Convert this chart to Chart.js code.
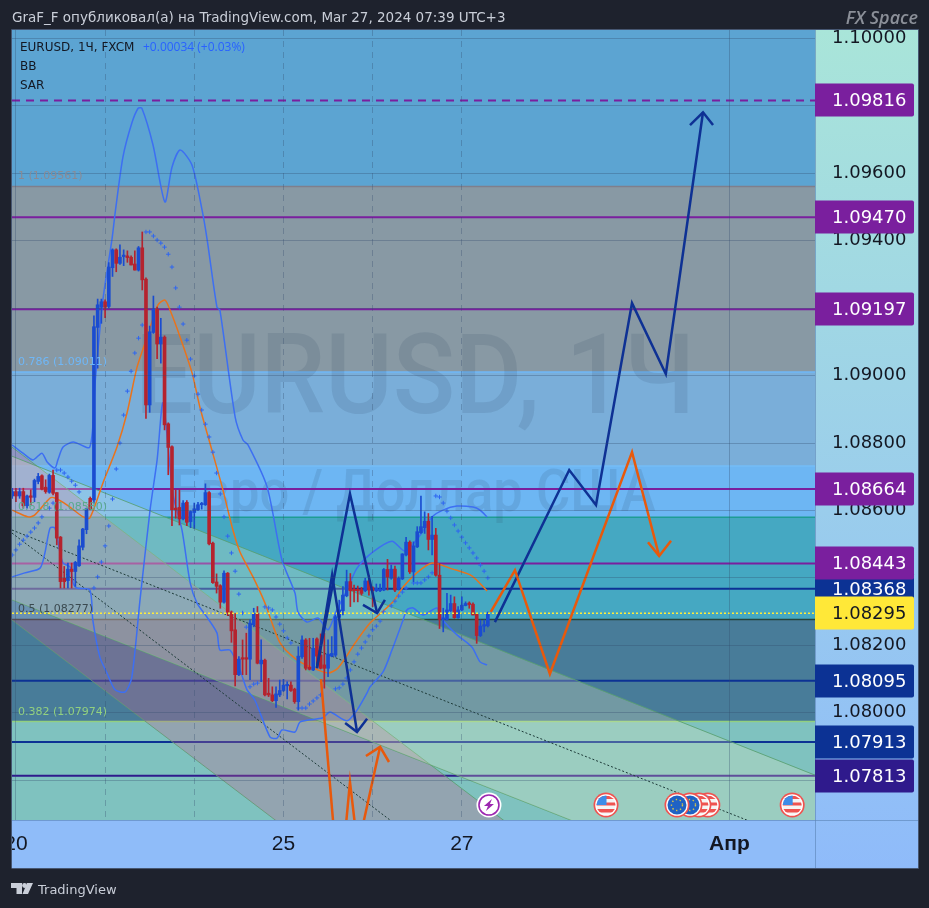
<!DOCTYPE html>
<html>
<head>
<meta charset="utf-8">
<title>EURUSD, 1Ч</title>
<script src="https://cdn.jsdelivr.net/npm/chart.js@4"></script>
<style>
    html, body { margin: 0; padding: 0; background: #1e222d; }
    #wrap { position: relative; width: 929px; height: 908px; }
</style>
</head>
<body>
<div id="wrap"><canvas id="chart" width="929" height="908"></canvas></div>
<script>
// candles, first one sits at bar -1
const candleOpen = [1.08643,1.08656,1.08643,1.08656,1.08614,1.08643,1.08639,1.08686,1.08703,1.08669,1.08654,1.08704,1.08653,1.08521,1.08399,1.08392,1.08426,1.08419,1.08436,1.08491,1.08543,1.08636,1.08631,1.09143,1.09203,1.09219,1.09205,1.09320,1.09373,1.09333,1.09353,1.09355,1.09351,1.09331,1.09313,1.09379,1.09286,1.08913,1.09128,1.09197,1.09094,1.09114,1.08857,1.08789,1.08607,1.08609,1.08575,1.08624,1.08567,1.08594,1.08602,1.08617,1.08617,1.08653,1.08503,1.08388,1.08377,1.08328,1.08414,1.08299,1.08246,1.08113,1.08162,1.08162,1.08159,1.08261,1.08294,1.08145,1.08156,1.08058,1.08053,1.08036,1.08053,1.08066,1.08080,1.08082,1.08070,1.08033,1.08166,1.08216,1.08135,1.08127,1.08219,1.08171,1.08142,1.08132,1.08168,1.08171,1.08283,1.08303,1.08347,1.08389,1.08364,1.08364,1.08364,1.08362,1.08391,1.08371,1.08362,1.08362,1.08364,1.08425,1.08399,1.08426,1.08367,1.08397,1.08468,1.08506,1.08418,1.08492,1.08534,1.08549,1.08568,1.08514,1.08527,1.08408,1.08277,1.08277,1.08303,1.08324,1.08282,1.08305,1.08318,1.08324,1.08322,1.08292,1.08229,1.08257,1.08258];
const candleHigh = [1.08666,1.08666,1.08666,1.08666,1.08646,1.08661,1.08693,1.08710,1.08706,1.08691,1.08708,1.08720,1.08653,1.08523,1.08434,1.08444,1.08444,1.08449,1.08513,1.08547,1.08607,1.08640,1.09177,1.09227,1.09227,1.09225,1.09335,1.09376,1.09376,1.09388,1.09373,1.09370,1.09355,1.09370,1.09383,1.09426,1.09290,1.09147,1.09236,1.09203,1.09170,1.09118,1.08860,1.08792,1.08661,1.08661,1.08629,1.08629,1.08599,1.08622,1.08624,1.08624,1.08679,1.08656,1.08506,1.08412,1.08380,1.08421,1.08416,1.08302,1.08294,1.08167,1.08216,1.08236,1.08276,1.08310,1.08315,1.08216,1.08159,1.08102,1.08077,1.08077,1.08097,1.08099,1.08092,1.08092,1.08073,1.08196,1.08228,1.08220,1.08221,1.08221,1.08222,1.08234,1.08236,1.08216,1.08226,1.08290,1.08334,1.08374,1.08423,1.08413,1.08379,1.08376,1.08372,1.08399,1.08408,1.08374,1.08382,1.08382,1.08428,1.08455,1.08438,1.08435,1.08403,1.08472,1.08520,1.08510,1.08507,1.08552,1.08643,1.08596,1.08591,1.08583,1.08547,1.08443,1.08310,1.08354,1.08349,1.08344,1.08315,1.08344,1.08329,1.08329,1.08326,1.08295,1.08275,1.08275,1.08299];
const candleLow = [1.08636,1.08626,1.08636,1.08607,1.08607,1.08617,1.08626,1.08679,1.08661,1.08651,1.08651,1.08646,1.08498,1.08370,1.08370,1.08370,1.08370,1.08375,1.08434,1.08483,1.08531,1.08602,1.08622,1.09022,1.09155,1.09172,1.09200,1.09294,1.09308,1.09330,1.09326,1.09336,1.09328,1.09313,1.09310,1.09254,1.08873,1.08891,1.09125,1.09050,1.09037,1.08839,1.08706,1.08555,1.08577,1.08557,1.08572,1.08555,1.08549,1.08547,1.08600,1.08604,1.08615,1.08498,1.08384,1.08355,1.08310,1.08325,1.08288,1.08209,1.08080,1.08110,1.08113,1.08113,1.08098,1.08255,1.08145,1.08092,1.08050,1.08048,1.08033,1.08016,1.08048,1.08063,1.08041,1.08063,1.08028,1.08008,1.08161,1.08127,1.08127,1.08125,1.08132,1.08130,1.08073,1.08107,1.08166,1.08166,1.08280,1.08290,1.08344,1.08315,1.08329,1.08329,1.08349,1.08359,1.08349,1.08315,1.08359,1.08359,1.08362,1.08364,1.08396,1.08359,1.08364,1.08395,1.08465,1.08413,1.08389,1.08490,1.08532,1.08532,1.08483,1.08468,1.08405,1.08250,1.08240,1.08275,1.08300,1.08280,1.08280,1.08303,1.08317,1.08310,1.08290,1.08206,1.08226,1.08240,1.08255];
const candleClose = [1.08656,1.08643,1.08656,1.08614,1.08643,1.08639,1.08689,1.08701,1.08663,1.08656,1.08704,1.08651,1.08518,1.08389,1.08389,1.08426,1.08419,1.08446,1.08495,1.08545,1.08605,1.08604,1.09145,1.09210,1.09219,1.09203,1.09322,1.09373,1.09333,1.09351,1.09355,1.09350,1.09328,1.09313,1.09379,1.09284,1.08913,1.09130,1.09197,1.09094,1.09114,1.08854,1.08787,1.08602,1.08602,1.08575,1.08622,1.08565,1.08597,1.08605,1.08617,1.08620,1.08653,1.08501,1.08386,1.08375,1.08328,1.08414,1.08298,1.08243,1.08113,1.08159,1.08159,1.08159,1.08266,1.08294,1.08147,1.08156,1.08053,1.08053,1.08036,1.08056,1.08066,1.08082,1.08082,1.08066,1.08033,1.08168,1.08216,1.08132,1.08129,1.08191,1.08168,1.08132,1.08132,1.08174,1.08176,1.08285,1.08305,1.08349,1.08389,1.08362,1.08362,1.08362,1.08354,1.08391,1.08364,1.08362,1.08369,1.08364,1.08425,1.08402,1.08426,1.08364,1.08399,1.08471,1.08506,1.08418,1.08495,1.08537,1.08552,1.08568,1.08514,1.08527,1.08408,1.08277,1.08280,1.08305,1.08324,1.08282,1.08305,1.08319,1.08324,1.08321,1.08290,1.08229,1.08257,1.08260,1.08292];

// bollinger bands, read at the bends
const bbUpperBars = [-1,1.9,4.6,7,8.4,10.5,11.3,12.7,15.4,19.9,21.3,23.4,25.9,26.7,28.8,31.2,32.9,33.9,36.9,40.1,42,44.2,47.4,50.1,51.4,54.1,54.9,59,61.1,62.5,67.6,71.6,75.1,75.9,78.3,81.3,84,86.1,89.1,91.8,96.1,101.2,104.7,108.8,112,114.9,118.7,123,124.9,126.8];
const bbUpperVals = [1.08794,1.0877,1.0875,1.0877,1.08744,1.08726,1.0875,1.08788,1.08803,1.08788,1.08978,1.09224,1.09408,1.09482,1.09648,1.09749,1.09793,1.09793,1.09684,1.09515,1.09618,1.09669,1.09624,1.09491,1.09408,1.09203,1.09194,1.08877,1.08809,1.08794,1.0867,1.08453,1.08355,1.08299,1.08269,1.08281,1.08246,1.08299,1.08364,1.08429,1.08477,1.08509,1.0848,1.08527,1.08581,1.08601,1.08613,1.0861,1.08601,1.08581];
const bbLowerBars = [-1,2.4,6.5,7.8,9.2,10.5,11.9,12.7,14.6,15.4,16.4,19.9,20.7,22.6,24.5,26.7,29.4,31.2,33.4,36.1,38,39.6,42.3,44.7,46.9,48.7,51.4,54.1,54.9,57.6,60.3,62.2,64.3,68.4,70.3,71.6,75.1,76.5,82.6,84.5,89.1,91.8,94.5,95.3,98.8,101.2,104.2,105.2,106.9,109.6,113.3,114.9,118.7,122.7,124.9,126.8];
const bbLowerVals = [1.08403,1.08415,1.08429,1.08474,1.08548,1.08548,1.08474,1.08444,1.08432,1.08385,1.0837,1.08364,1.08275,1.08165,1.08118,1.08068,1.08062,1.08106,1.08335,1.08601,1.0875,1.08919,1.08646,1.08542,1.08385,1.08326,1.08284,1.08237,1.08186,1.08186,1.08127,1.08068,1.08038,1.07928,1.07925,1.07949,1.07943,1.07973,1.07985,1.08002,1.07976,1.08008,1.08059,1.08077,1.08121,1.08186,1.08275,1.08305,1.08311,1.0829,1.08311,1.08275,1.08231,1.08195,1.08151,1.08142];
const bbBasisBars = [-1,3.3,5.1,9.2,10.5,13.8,18.1,19.9,23.4,27.2,29.9,32.6,35.3,38.2,40.1,41.5,44.2,47.4,49.5,52.2,55.5,58.4,60.3,63.8,67,71.1,75.6,79.9,84,86.7,91.3,95.3,101.5,104.2,107.9,112,117.6,122.7,126.8];
const bbBasisVals = [1.08601,1.08581,1.08587,1.08637,1.08637,1.08616,1.08581,1.08578,1.08681,1.08788,1.08889,1.09025,1.09114,1.09209,1.09224,1.09194,1.09114,1.09008,1.08907,1.088,1.0867,1.08542,1.08477,1.08403,1.08326,1.08207,1.08157,1.08133,1.08118,1.08133,1.08207,1.08266,1.08329,1.08373,1.08415,1.08444,1.08426,1.08406,1.08361];

// parabolic sar
const sarBars = [-1,0,1,2,3,4,5,6,7,9,10,11,12,13,14,15,16,17,21,22,23,24,25,26,27,28,29,30,31,32,33,34,35,36,37,38,39,40,41,42,43,44,45,46,47,48,49,50,51,52,53,54,55,56,57,58,59,60,61,62,63,64,65,67,68,69,70,71,72,73,74,76,77,78,79,80,81,82,86,87,88,89,90,91,92,93,94,95,96,97,98,99,101,102,103,104,105,107,108,109,110,111,112,113,114,115,116,117,118,119,120,121,122,123,124,125,126,127];
const sarVals = [1.08468,1.08483,1.085,1.08512,1.08524,1.08536,1.08548,1.08563,1.08581,1.08607,1.08622,1.0872,1.0872,1.08711,1.08699,1.08687,1.08675,1.08655,1.0837,1.08403,1.08447,1.08495,1.08554,1.08634,1.08723,1.088,1.08883,1.08954,1.09013,1.09067,1.09111,1.0915,1.09426,1.09426,1.09414,1.09402,1.09393,1.09381,1.0936,1.09322,1.0926,1.09203,1.09153,1.09105,1.09049,1.08999,1.08945,1.08898,1.08856,1.08818,1.08773,1.08711,1.08649,1.08581,1.08524,1.08474,1.0842,1.08352,1.08296,1.08254,1.08077,1.08085,1.08088,1.08314,1.08311,1.08305,1.08284,1.08263,1.08243,1.08222,1.08207,1.08014,1.08014,1.08014,1.08026,1.08035,1.08044,1.08053,1.08071,1.08074,1.08085,1.08103,1.08127,1.08151,1.08174,1.08192,1.0821,1.08228,1.08246,1.08257,1.08272,1.08299,1.08317,1.08331,1.08346,1.08358,1.0837,1.08385,1.08385,1.08385,1.08394,1.08403,1.08415,1.08643,1.0864,1.08622,1.08598,1.08578,1.08557,1.08539,1.08521,1.08504,1.08489,1.08474,1.08459,1.08438,1.0842,1.084];

// fibonacci retracement
const fibLevels = [1.09561, 1.09011, 1.08580, 1.08277, 1.07974];
const fibLabels = ['1 (1.09561)', '0.786 (1.09011)', '0.618 (1.08580)', '0.5 (1.08277)', '0.382 (1.07974)'];
const zoneTops = [1.10025, 1.09561, 1.09011, 1.08732, 1.08580, 1.08277, 1.07974];
const zoneBottoms = [1.09561, 1.09011, 1.08732, 1.08580, 1.08277, 1.07974, 1.07682];

// horizontal levels
const purpleLevels = [1.09816, 1.09470, 1.09197, 1.08664, 1.08443];
const blueLevels = [1.08368, 1.08095, 1.07913];
const indigoLevels = [1.07813];
const lastPrice = 1.08295;

// parallel channels, value at left and right edge of the pane
const steepUpper = [1.08788, 1.06980];
const steepMiddle = [1.08533, 1.06725];
const steepLower = [1.08275, 1.06466];
const flatUpper = [1.08761, 1.07815];
const flatMiddle = [1.08542, 1.07602];
const flatLower = [1.08335, 1.07396];

// hand drawn paths
const blueA = [[81,1.08133],[89.9,1.08649],[97.2,1.08296]];
const blueAHead = [[93.4,1.0832],[97.2,1.08296],[99.3,1.08335]];
const blueB = [[81,1.08133],[85.1,1.08409],[91.8,1.07943]];
const blueBHead = [[88.6,1.0797],[91.8,1.07943],[94.5,1.07982]];
const blueC = [[128.9,1.08269],[148.9,1.0872],[156.1,1.08616],[165.8,1.09215],[174.9,1.09005],[184.9,1.09781]];
const blueCHead = [[181.4,1.09743],[184.9,1.09781],[187.6,1.09743]];
const orangeA = [[127.8,1.08299],[134.3,1.08423],[143.7,1.08115],[165.8,1.08773],[173.1,1.08465]];
const orangeAHead = [[170.1,1.08506],[173.1,1.08465],[176.3,1.0851]];
const orangeB = [[82.1,1.081],[85.9,1.07608]];
const orangeC = [[88.7,1.07653],[89.9,1.07795],[91.4,1.07653]];
const orangeD = [[93.1,1.07653],[98,1.07899]];
const orangeDHead = [[94.2,1.07872],[98,1.07899],[100.4,1.07854]];

// axes
const priceTicks = [1.1,1.098,1.096,1.094,1.092,1.09,1.088,1.086,1.084,1.082,1.08,1.078];
const timeTickBars = [0,24,48,72,96,120,192];
const timeTickLabels = ['20','','','25','','27','Апр'];

// calendar events along the bottom
const usEvents = [158.8, 183.8, 186.2, 208.9];
const euEvents = [177.9, 181.4];
const boltEvents = [127.3];

const X_MIN = -1.05, X_MAX = 215.04, Y_MIN = 1.07682, Y_MAX = 1.10025;
const UI_FONT = '"DejaVu Sans"';

const toPoints = (bars, vals) => bars.map((b, i) => ({ x: b, y: vals[i] }));
const toXY = pairs => pairs.map(p => ({ x: p[0], y: p[1] }));
const edges = vals => [{ x: X_MIN, y: vals[0] }, { x: X_MAX, y: vals[1] }];
const level = v => edges([v, v]);

function line(label, data, color, width, extra) {
    return Object.assign({
        type: 'line', label, data, borderColor: color, borderWidth: width,
        pointRadius: 0, tension: 0, fill: false, clip: 0
    }, extra || {});
}

// built back to front, reversed at the end because the first dataset is drawn on top
const layers = [];

const zoneColors = ['#5ca4d2', '#8899a4', '#7aaed9', '#6db6f3', '#45a8c2', '#487c99', '#7fc2bf'];
const zoneEdges = ['rgba(0,0,0,0)', '#7f7f8c', '#6fb7f7', '#74bdf7', '#1f9c94', '#25433c', '#92d07f'];
zoneTops.forEach((top, i) => {
    layers.push(line('zone' + i, level(top), zoneEdges[i], i === 0 ? 0 : 1.5, {
        fill: { target: { value: zoneBottoms[i] } }, backgroundColor: zoneColors[i]
    }));
});

purpleLevels.forEach((v, i) => {
    layers.push(line('purple' + i, level(v), '#7a1f9e', 2, i === 0 ? { borderDash: [8, 6] } : {}));
});
blueLevels.forEach((v, i) => layers.push(line('blue' + i, level(v), '#0c3294', 2)));
indigoLevels.forEach((v, i) => layers.push(line('indigo' + i, level(v), '#2f1a8c', 2)));

const channelEdge = 'rgba(88,160,112,0.85)';
// lower edge goes first so that after the reverse the upper one fills to '+1'
layers.push(line('steepLower', edges(steepLower), channelEdge, 1));
layers.push(line('steepUpper', edges(steepUpper), channelEdge, 1, {
    fill: '+1', backgroundColor: 'rgba(194,96,141,0.3)'
}));
layers.push(line('flatLower', edges(flatLower), channelEdge, 1));
layers.push(line('flatUpper', edges(flatUpper), channelEdge, 1, {
    fill: '+1', backgroundColor: 'rgba(240,240,195,0.25)'
}));
layers.push(line('steepMiddle', edges(steepMiddle), '#1d3a38', 1, { borderDash: [2, 2] }));
layers.push(line('flatMiddle', edges(flatMiddle), '#1d3a38', 1, { borderDash: [2, 2] }));

layers.push(line('bbUpper', toPoints(bbUpperBars, bbUpperVals), '#3d6ff2', 1.5, { tension: 0.25 }));
layers.push(line('bbLower', toPoints(bbLowerBars, bbLowerVals), '#3d6ff2', 1.5, { tension: 0.25 }));
layers.push(line('bbBasis', toPoints(bbBasisBars, bbBasisVals), '#e9731c', 1.5, { tension: 0.25 }));
layers.push({
    type: 'scatter', label: 'sar', data: toPoints(sarBars, sarVals),
    pointStyle: 'cross', pointRadius: 2.2, pointBorderColor: '#2f66f0', pointBorderWidth: 1,
    showLine: false
});

const candleColor = ctx => {
    const i = ctx.dataIndex;
    return candleClose[i] >= candleOpen[i] ? '#1a4cd0' : '#b5232e';
};
layers.push({
    type: 'bar', label: 'wicks',
    data: candleOpen.map((o, i) => ({ x: i - 1, y: [candleLow[i], candleHigh[i]] })),
    backgroundColor: candleColor, barThickness: 1, grouped: false
});
layers.push({
    type: 'bar', label: 'bodies',
    data: candleOpen.map((o, i) => ({ x: i - 1, y: [candleOpen[i], candleClose[i]] })),
    backgroundColor: candleColor, barThickness: 3, grouped: false, minBarLength: 1.5
});

layers.push(line('last', level(lastPrice), '#ffeb3b', 1.5, { borderDash: [2, 2] }));

[blueA, blueAHead, blueB, blueBHead, blueC, blueCHead].forEach((p, i) => {
    layers.push(line('drawBlue' + i, toXY(p), '#0e3194', 2.5));
});
[orangeA, orangeAHead, orangeB, orangeC, orangeD, orangeDHead].forEach((p, i) => {
    layers.push(line('drawOrange' + i, toXY(p), '#e8590c', 2.5));
});

function eventBadge(c, x, y) {
    c.beginPath(); c.arc(x, y, 12.5, 0, Math.PI * 2); c.fillStyle = '#ef5350'; c.fill();
    c.beginPath(); c.arc(x, y, 10.8, 0, Math.PI * 2); c.fillStyle = '#ffffff'; c.fill();
}

function drawUsFlag(c, x, y) {
    c.save();
    eventBadge(c, x, y);
    c.beginPath(); c.arc(x, y, 9.5, 0, Math.PI * 2); c.clip();
    c.fillStyle = '#f5f5f5';
    c.fillRect(x - 10, y - 10, 20, 20);
    c.fillStyle = '#ef5350';
    c.fillRect(x - 10, y - 9, 20, 3);
    c.fillRect(x - 10, y - 2.5, 20, 3);
    c.fillRect(x - 10, y + 4, 20, 3.5);
    c.fillStyle = '#3d8ce8';
    c.fillRect(x - 10, y - 10, 10.5, 10);
    c.restore();
}

function drawEuFlag(c, x, y) {
    c.save();
    eventBadge(c, x, y);
    c.beginPath(); c.arc(x, y, 9.5, 0, Math.PI * 2); c.fillStyle = '#1f62c4'; c.fill();
    c.strokeStyle = '#d8c34a'; c.lineWidth = 1.4; c.setLineDash([1.4, 2.6]);
    c.beginPath(); c.arc(x, y, 5.5, 0, Math.PI * 2); c.stroke();
    c.restore();
}

function drawBolt(c, x, y) {
    c.save();
    c.beginPath(); c.arc(x, y, 12.5, 0, Math.PI * 2); c.fillStyle = '#ffffff'; c.fill();
    c.beginPath(); c.arc(x, y, 10, 0, Math.PI * 2); c.strokeStyle = '#9c27b0'; c.lineWidth = 1.6; c.stroke();
    c.fillStyle = '#9c27b0';
    c.beginPath();
    c.moveTo(x + 3, y - 6); c.lineTo(x - 5, y + 1); c.lineTo(x - 1, y + 1);
    c.lineTo(x - 3, y + 6); c.lineTo(x + 5, y - 1); c.lineTo(x + 1, y - 1);
    c.closePath(); c.fill();
    c.restore();
}

function drawTag(c, value, yScale, fill, ink) {
    const y = Math.round(yScale.getPixelForValue(value));
    c.fillStyle = fill;
    c.beginPath();
    c.roundRect(815, y - 16.5, 99, 33, [0, 2, 2, 0]);
    c.fill();
    c.fillStyle = ink;
    c.font = '18px ' + UI_FONT;
    c.textAlign = 'left';
    c.textBaseline = 'middle';
    c.fillText(value.toFixed(5), 832, y + 1);
}

// panels behind the axes
const panelPlugin = {
    id: 'panels',
    beforeDraw(chart) {
        const c = chart.ctx;
        const a = chart.chartArea;
        const g = c.createLinearGradient(0, 30, 0, 868);
        g.addColorStop(0, '#a9e5d9');
        g.addColorStop(1, '#8fbbfa');
        c.fillStyle = g;
        c.fillRect(a.right, a.top, 918 - a.right, 868 - a.top);
        c.fillStyle = '#8fbcf9';
        c.fillRect(a.left, a.bottom, a.right - a.left, 868 - a.bottom);
    }
};

// big symbol text sits above the zones, under everything else
const watermarkPlugin = {
    id: 'watermark',
    afterDatasetDraw(chart, args) {
        if (chart.data.datasets[args.index].label !== 'zone6') return;
        const c = chart.ctx;
        const a = chart.chartArea;
        c.save();
        c.beginPath(); c.rect(a.left, a.top, a.right - a.left, a.bottom - a.top); c.clip();
        c.fillStyle = 'rgba(40,60,90,0.13)';
        c.textAlign = 'center';
        c.textBaseline = 'alphabetic';
        c.font = '500 112px Roboto';
        c.fillText('EURUSD, 1Ч', 415, 413, 560);
        c.font = '500 60px Roboto';
        c.fillText('Евро / Доллар США', 413, 511, 485);
        c.restore();
    }
};

const overlayPlugin = {
    id: 'overlay',
    afterDraw(chart) {
        const c = chart.ctx;
        const a = chart.chartArea;
        const xs = chart.scales.x;
        const ys = chart.scales.y;

        // pane frame, also trims the clipped "20"
        c.fillStyle = '#1e222d';
        c.fillRect(0, a.bottom, a.left, 868 - a.bottom);
        c.strokeStyle = 'rgba(80,100,130,0.8)';
        c.lineWidth = 1;
        c.beginPath();
        c.moveTo(a.left - 0.5, 868); c.lineTo(a.left - 0.5, a.top - 0.5); c.lineTo(918.5, a.top - 0.5);
        c.lineTo(918.5, 868.5); c.lineTo(a.left - 0.5, 868.5);
        c.stroke();
        c.strokeStyle = 'rgba(90,130,180,0.6)';
        c.beginPath();
        c.moveTo(a.right + 0.5, a.top); c.lineTo(a.right + 0.5, 868);
        c.moveTo(a.left, a.bottom + 0.5); c.lineTo(918, a.bottom + 0.5);
        c.stroke();

        // price tags
        blueLevels.forEach(v => drawTag(c, v, ys, '#0c3294', '#ffffff'));
        indigoLevels.forEach(v => drawTag(c, v, ys, '#2f1a8c', '#ffffff'));
        purpleLevels.forEach(v => drawTag(c, v, ys, '#7a1f9e', '#ffffff'));
        drawTag(c, lastPrice, ys, '#ffe838', '#131722');

        // fib labels
        const fibInk = ['#8a8a94', '#6fb7f7', '#5aa98e', '#3b4a50', '#92d07f'];
        c.font = '11px ' + UI_FONT;
        c.textAlign = 'left';
        c.textBaseline = 'alphabetic';
        fibLevels.forEach((v, i) => {
            c.fillStyle = fibInk[i];
            c.fillText(fibLabels[i], 18, ys.getPixelForValue(v) - 7);
        });

        // legend
        c.font = '12px ' + UI_FONT;
        c.fillStyle = '#131722';
        c.fillText('EURUSD, 1Ч, FXCM', 20, 51);
        c.fillText('BB', 20, 70);
        c.fillText('SAR', 20, 89);
        c.font = '12px "Open Sans"';
        c.fillStyle = '#2962ff';
        c.fillText('+0.00034 (+0.03%)', 143, 51);

        // events, leftmost badges sit on top
        const ey = 805;
        boltEvents.forEach(b => drawBolt(c, xs.getPixelForValue(b), ey));
        usEvents.slice().reverse().forEach(b => drawUsFlag(c, xs.getPixelForValue(b), ey));
        euEvents.slice().reverse().forEach(b => drawEuFlag(c, xs.getPixelForValue(b), ey));

        // header and footer
        c.fillStyle = '#c9ced8';
        c.font = '13.5px ' + UI_FONT;
        c.fillText('GraF_F опубликовал(а) на TradingView.com, Mar 27, 2024 07:39 UTC+3', 12, 22);
        c.fillStyle = '#8b8f98';
        c.font = 'italic 600 18px "Open Sans"';
        c.textAlign = 'right';
        c.fillText('FX Space', 918, 24);
        c.textAlign = 'left';
        c.fillStyle = '#c9ced8';
        c.font = '13px ' + UI_FONT;
        c.fillText('TradingView', 38, 894);
        c.beginPath();
        c.moveTo(11, 883); c.lineTo(22, 883); c.lineTo(22, 894); c.lineTo(16.5, 894); c.lineTo(16.5, 888); c.lineTo(11, 888);
        c.closePath();
        c.moveTo(27, 883); c.lineTo(33, 883); c.lineTo(28, 894); c.lineTo(22.5, 894);
        c.closePath();
        c.fill();
        c.beginPath(); c.arc(24.5, 885.5, 2.4, 0, Math.PI * 2); c.fill();
    }
};

const gridColor = 'rgba(50,75,110,0.32)';

new Chart(document.getElementById('chart').getContext('2d'), {
    type: 'line',
    data: { datasets: layers.reverse() },
    options: {
        responsive: false,
        animation: false,
        parsing: true,
        normalized: true,
        events: [],
        layout: { padding: { left: 12, top: 30, right: 11, bottom: 40 } },
        plugins: {
            legend: { display: false },
            tooltip: { enabled: false },
            filler: { drawTime: 'beforeDatasetDraw', propagate: false }
        },
        scales: {
            x: {
                type: 'linear', min: X_MIN, max: X_MAX, offset: false,
                grid: { color: gridColor, z: 1, drawTicks: false, offset: false },
                border: {
                    display: false,
                    dash: ctx => (ctx.tick && (ctx.tick.value === 192 || ctx.tick.value === 0)) ? [] : [6, 5]
                },
                afterBuildTicks(scale) { scale.ticks = timeTickBars.map(v => ({ value: v })); },
                // the "20" is allowed to hang over the left edge
                afterFit(scale) { scale.height = 48; scale.paddingLeft = 0; scale.paddingRight = 0; },
                ticks: {
                    autoSkip: false, maxRotation: 0, padding: 12, color: '#131722',
                    font: ctx => ({
                        family: 'Liberation Sans', size: 21,
                        weight: ctx.tick && ctx.tick.value === 192 ? 'bold' : 'normal'
                    }),
                    callback: v => timeTickLabels[timeTickBars.indexOf(v)] || ''
                }
            },
            y: {
                type: 'linear', position: 'right', min: Y_MIN, max: Y_MAX,
                grid: { color: gridColor, z: 1, drawTicks: false },
                border: { display: false },
                afterBuildTicks(scale) { scale.ticks = priceTicks.map(v => ({ value: v })); },
                afterFit(scale) { scale.width = 103; },
                ticks: {
                    padding: 17, color: '#131722', autoSkip: false, crossAlign: 'near',
                    font: { family: 'DejaVu Sans', size: 18 },
                    callback: v => v.toFixed(5)
                }
            }
        }
    },
    plugins: [panelPlugin, watermarkPlugin, overlayPlugin]
});
</script>
</body>
</html>
